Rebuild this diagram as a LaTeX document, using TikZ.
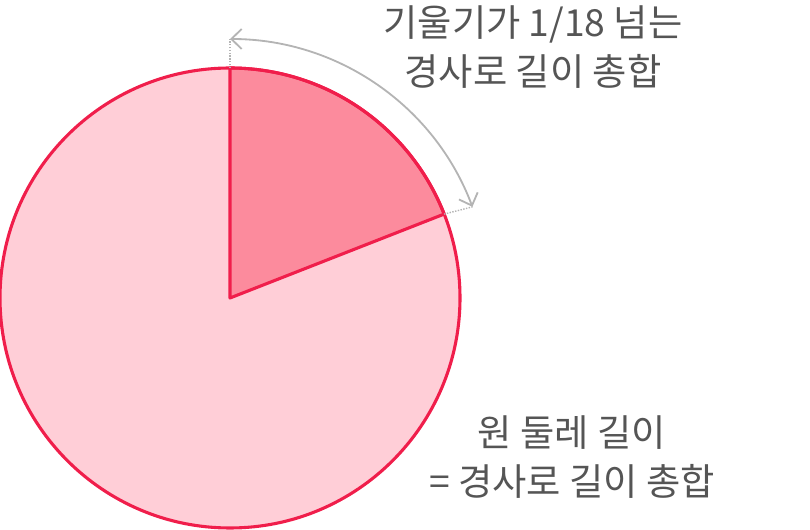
\documentclass[tikz,border=0pt]{standalone}
\usepackage{fontspec}
\newfontfamily\krfont{Noto Sans CJK KR}
\usetikzlibrary{positioning, arrows.meta, calc}

\definecolor{wedgeline}{HTML}{F01E4B}
\definecolor{circlefill}{HTML}{FFCED7}
\definecolor{wedgefill}{HTML}{FC8B9D}
\definecolor{labelgray}{HTML}{555555}
\definecolor{arcgray}{HTML}{B4B4B4}

\begin{document}
\begin{tikzpicture}[
    x=0.025cm, y=0.025cm,
    wheel/.style={
        draw=wedgeline,
        line width=2.2pt,
        fill=circlefill
    },
    wedge/.style={
        draw=wedgeline,
        line width=2.2pt,
        fill=wedgefill,
        line join=round
    },
    arcarrow/.style={
        {Straight Barb[length=2.6mm, width=5mm]}-{Straight Barb[length=2.6mm, width=5mm]},
        draw=arcgray,
        line width=1.3pt
    },
    guide/.style={
        draw=arcgray,
        line width=1pt,
        densely dotted
    },
    caption/.style={
        font=\krfont\fontsize{26.5}{35}\selectfont,
        text=labelgray,
        align=center,
        inner sep=0pt
    }
]

    \useasboundingbox (0,0) rectangle (810,-530);

    % Circle and the 1/18 slope wedge
    \coordinate (c) at (230,-298);
    \fill[circlefill] (c) circle[radius=230];
    \draw[wedge] (c) -- ++(90:230) arc[start angle=90, end angle=21.4, radius=230] -- cycle;
    \draw[wheel, fill=none] (c) circle[radius=230];

    % Arc arrow over the wedge
    \coordinate (wtop) at ($(c)+(90:230)$);
    \coordinate (wend) at ($(c)+(21.4:230)$);
    \coordinate (atop) at ($(c)+(90:259)$);
    \coordinate (aend) at ($(c)+(20.6:259)$);
    \draw[guide] (wtop) -- (atop);
    \draw[guide] (wend) -- (aend);
    \draw[arcarrow] (atop) arc[start angle=90, end angle=20.6, radius=259];

    % Labels
    \node[caption] (slope) at (533,-47) {기울기가 1/18 넘는\\경사로 길이 총합};
    \node[caption] (total) at (572,-457) {원 둘레 길이\\= 경사로 길이 총합};

\end{tikzpicture}
\end{document}
